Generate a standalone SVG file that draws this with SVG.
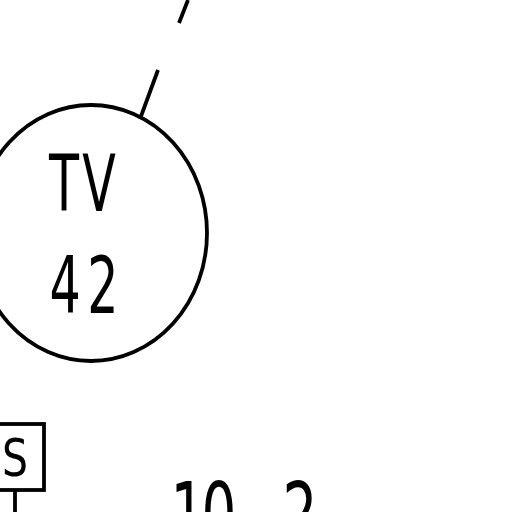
<svg xmlns="http://www.w3.org/2000/svg" width="512" height="512" viewBox="0 0 512 512">
<style>
.ln{fill:none;stroke:#000;stroke-width:3.8;stroke-linecap:butt}
.t{font-family:"DejaVu Sans Condensed","DejaVu Sans",sans-serif;fill:#000;text-anchor:middle}
</style>
<rect width="512" height="512" fill="#fff"/>
<g id="connectors">
<line class="ln" x1="188" y1="0" x2="179" y2="23"/>
<line class="ln" x1="158" y1="70" x2="140" y2="119"/>
<line class="ln" x1="15" y1="490" x2="15" y2="512"/>
</g>
<g id="node-tv42">
<ellipse class="ln" cx="91" cy="233" rx="116" ry="128"/>
<text class="t" transform="scale(0.7,1)" x="91.4 141.4" y="211" font-size="78">TV</text>
<text class="t" transform="scale(0.7,1)" x="92.9 147.1" y="313" font-size="78">42</text>
</g>
<g id="node-s">
<rect class="ln" x="-5" y="424" width="49" height="66"/>
<text class="t" x="15" y="476" font-size="52" textLength="26" lengthAdjust="spacingAndGlyphs">S</text>
</g>
<g id="label-10-2">
<text class="t" transform="scale(0.7,1)" x="268.6 312.9 364.3 428.6" y="545" font-size="87">10,2</text>
</g>
</svg>
